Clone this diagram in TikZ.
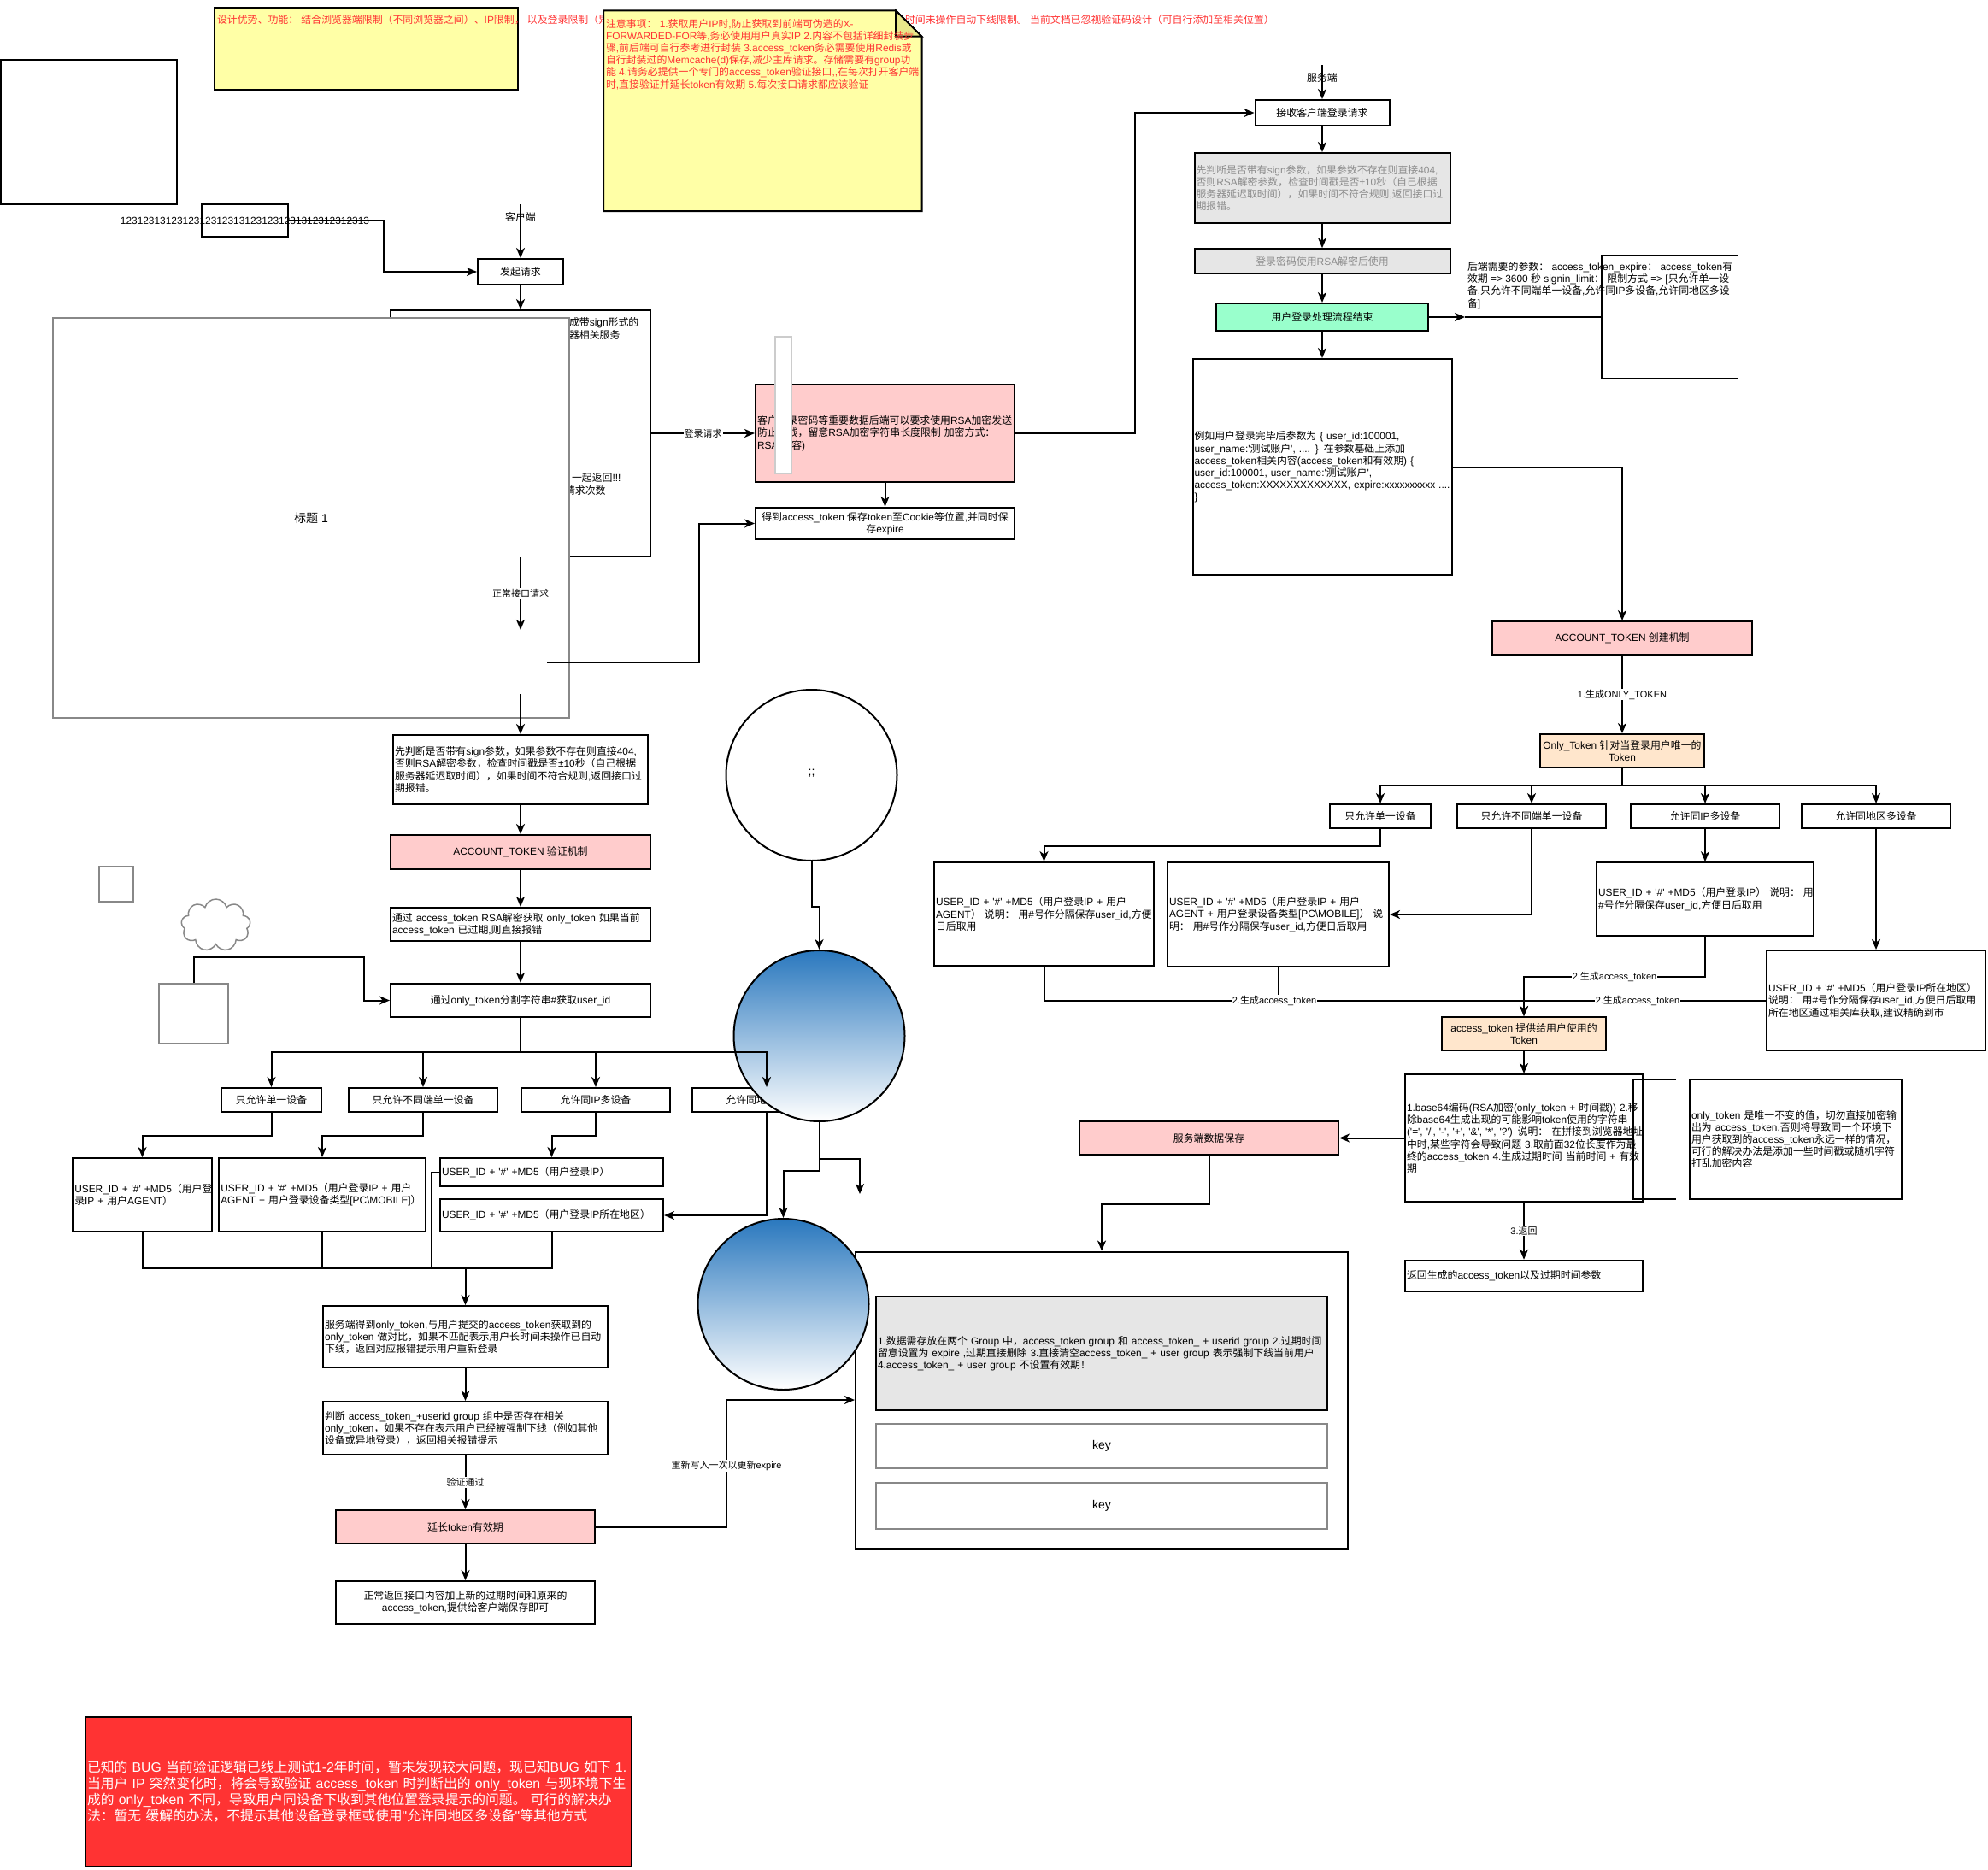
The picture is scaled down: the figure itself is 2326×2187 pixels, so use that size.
\documentclass[tikz,border=0pt]{standalone}
\usepackage{fontspec}
\usetikzlibrary{arrows.meta,shapes.symbols}
\setmainfont{Liberation Sans}[Ligatures=TeXOff]
\newfontfamily\cjkfont{Noto Sans CJK SC}
% CJK characters fall back on the Noto family
\XeTeXinterchartokenstate=1
\newXeTeXintercharclass\cjkclass
\newcount\cjkchar
\cjkchar="2E80
\loop \XeTeXcharclass\cjkchar=\cjkclass \ifnum\cjkchar<"9FFF \advance\cjkchar by 1 \repeat
\cjkchar="FF00
\loop \XeTeXcharclass\cjkchar=\cjkclass \ifnum\cjkchar<"FFEF \advance\cjkchar by 1 \repeat
\XeTeXinterchartoks 0 \cjkclass={\cjkfont}
\XeTeXinterchartoks 4095 \cjkclass={\cjkfont}
\XeTeXinterchartoks \cjkclass 0={\rmfamily}
\XeTeXinterchartoks \cjkclass 4095={\rmfamily}
\definecolor{pinkfill}{HTML}{FFCCCC}
\definecolor{peachfill}{HTML}{FFE6CC}
\definecolor{mintfill}{HTML}{99FFCC}
\definecolor{grayfill}{HTML}{E6E6E6}
\definecolor{notefill}{HTML}{FFFFA6}
\definecolor{foldfill}{HTML}{E8E88A}
\definecolor{redfill}{HTML}{FF3333}
\definecolor{edgegray}{HTML}{888888}
\definecolor{bluetop}{HTML}{2A78BE}
\tikzset{
  txt/.style={font=\fontsize{11.9}{14.2}\selectfont},
  box/.style={draw,line width=2pt,fill=white,inner sep=2pt,align=center,txt},
  lbox/.style={box,align=left,text width=#1-4pt},
  pinkbox/.style={box,fill=pinkfill},
  peachbox/.style={box,fill=peachfill},
  ghost/.style={box,draw=edgegray},
  plain/.style={inner sep=0pt,align=left,txt},
  lab/.style={fill=white,inner sep=1pt,font=\fontsize{11}{13}\selectfont},
  arr/.style={-{Stealth[length=12pt,width=10pt,inset=3.5pt]}},
  ball/.style={circle,draw,line width=2pt,minimum size=200pt,inner sep=0pt,top color=bluetop,bottom color=white},
}
\begin{document}
\lineskiplimit=-10pt
\begin{tikzpicture}[x=1pt,y=-1pt,line width=2pt]
\useasboundingbox (0,0) rectangle (2326,2187);
% notes at the top
\node[box,fill=notefill,minimum width=355,minimum height=96] (noteleft) at (428.5,57) {};
\node[plain,anchor=west,text=redfill] (noteleftA) at (253,23) {设计优势、功能： 结合浏览器端限制（不同浏览器之间）、IP限制，\ 以及登录限制（异};
\node[plain,anchor=west,text=redfill] (noteleftB) at (1058,23) {时间未操作自动下线限制。 当前文档已忽视验证码设计（可自行添加至相关位置）};
\draw[fill=notefill] (706,12.3) -- (1048,12.3) -- (1078.5,42.7) -- (1078.5,247) -- (706,247) -- cycle;
\draw[fill=foldfill] (1048,12.3) -- (1048,42.7) -- (1078.5,42.7) -- cycle;
\node[plain,anchor=north west,text=redfill] (noteright) at (708,21) {注意事项： 1.获取用户IP时,防止获取到前端可伪造的X-\\FORWARDED-FOR等,务必使用用户真实IP 2.内容不包括详细封装步\\骤,前后端可自行参考进行封装 3.access\_token务必需要使用Redis或\\自行封装过的Memcache(d)保存,减少主库请求。存储需要有group功\\能 4.请务必提供一个专门的access\_token验证接口,,在每次打开客户端\\时,直接验证并延长token有效期 5.每次接口请求都应该验证};
% left column
\node[box,minimum width=206,minimum height=169] (blank) at (104,154.5) {};
\node[box,minimum width=101,minimum height=38] (numbox) at (286.5,258) {};
\node[plain] (numtext) at (286.5,258) {12312313123123123123131231231231312312312313};
\coordinate (clientin) at (609,239);
\node[box,minimum width=100,minimum height=30] (req) at (609,318) {发起请求};
\draw[arr] (clientin) -- (req.north);
\node[plain] (clienttext) at (609,254) {客户端};
\draw[arr] (numbox.east) -- ++(111,0) |- (req.west);
\node[box,minimum width=304,minimum height=288] (hidden) at (609,507) {};
\draw[arr] (req.south) -- (hidden.north);
\node[plain,anchor=west] (hidA) at (665,377.5) {成带sign形式的};
\node[plain,anchor=west] (hidB) at (665,391.5) {器相关服务};
\node[plain,anchor=west] (hidC) at (668,559) {一起返回!!!};
\node[plain,anchor=west] (hidD) at (660,574) {请求次数};
\node[ghost,minimum width=604,minimum height=468,font=\fontsize{14}{16}\selectfont] (title) at (364,606) {标题 1};
\coordinate (normalend) at (609,737);
\draw[arr] (hidden.south) -- node[lab] (lbnormal) {正常接口请求} (normalend);
\node[lbox=298pt,minimum width=298,minimum height=81] (signbox) at (609,900.5) {先判断是否带有sign参数，如果参数不存在则直接404,\\否则RSA解密参数，检查时间戳是否±10秒（自己根据\\服务器延迟取时间），如果时间不符合规则,返回接口过\\期报错。};
\coordinate (signin) at (609,812);
\draw[arr] (signin) -- (signbox.north);
\node[pinkbox,minimum width=304,minimum height=40] (acctv) at (609,997) {ACCOUNT\_TOKEN 验证机制};
\draw[arr] (signbox.south) -- (acctv.north);
\node[lbox=304pt,minimum width=304,minimum height=39] (decode) at (609,1081.5) {通过 access\_token RSA解密获取 only\_token 如果当前\\access\_token 已过期,则直接报错};
\draw[arr] (acctv.south) -- (decode.north);
\node[box,minimum width=304,minimum height=39] (split) at (609,1170.5) {通过only\_token分割字符串\#获取user\_id};
\draw[arr] (decode.south) -- (split.north);
% shapes beside the column
\node[ghost,minimum width=40.5,minimum height=41] (graysq) at (135.75,1034.5) {};
\node[cloud,draw=edgegray,line width=1.5pt,cloud puffs=9,minimum width=81,minimum height=61] (cloudy) at (252.5,1082.5) {};
\node[ghost,minimum width=81,minimum height=70] (graybox) at (226.5,1186) {};
\draw[arr] (graybox.north) -- ++(0,-30) -| ([xshift=-30pt]split.west) -- (split.west);
% login modes on the left
\node[box,minimum width=117,minimum height=28] (lb1) at (317.5,1287) {只允许单一设备};
\node[box,minimum width=174,minimum height=28] (lb2) at (495,1287) {只允许不同端单一设备};
\node[box,minimum width=174,minimum height=28] (lb3) at (697,1287) {允许同IP多设备};
\node[box,minimum width=174,minimum height=28] (lb4) at (897,1287) {允许同地区多设备};
\node[lbox=162.5pt,minimum width=162.5,minimum height=86] (lu1) at (166.5,1398) {USER\_ID~+~'\#'~+MD5（用户登\\录IP + 用户AGENT）};
\node[lbox=241.5pt,minimum width=241.5,minimum height=86] (lu2) at (377,1398) {USER\_ID + '\#' +MD5（用户登录IP + 用户\\AGENT + 用户登录设备类型[PC\textbackslash MOBILE]）};
\node[lbox=261pt,minimum width=261,minimum height=33] (lu3) at (645.5,1371.5) {USER\_ID + '\#' +MD5（用户登录IP）};
\node[lbox=261pt,minimum width=261,minimum height=38] (lu4) at (645.5,1422) {USER\_ID + '\#' +MD5（用户登录IP所在地区）};
% circles
\node[circle,draw,line width=2pt,fill=white,minimum size=200pt,inner sep=0pt,font=\fontsize{14}{16}\selectfont] (topball) at (949.5,907) {\raisebox{6pt}{;;}};
\node[ball] (ballone) at (958.5,1212) {};
\coordinate (fanleft) at (609,1231);
\draw (split.south) -- (fanleft);
\draw[arr] (fanleft) -| (lb1.north);
\draw[arr] (fanleft) -| (lb2.north);
\draw[arr] (fanleft) -| (lb3.north);
\draw[arr] (fanleft) -| (lb4.north);
\draw[arr] (lb1.south) -- ++(0,27) -| (lu1.north);
\draw[arr] (lb2.south) -- ++(0,27) -| (lu2.north);
\draw[arr] (lb3.south) -- ++(0,27) -| (lu3.north);
\draw[arr] (lb4.south) |- (lu4.east);
\draw[arr] (topball.south) -- ++(0,53) -| (ballone.north);
% server side check
\node[lbox=333pt,minimum width=333,minimum height=72] (server) at (544.5,1564) {服务端得到only\_token,与用户提交的access\_token获取到的\\only\_token 做对比，如果不匹配表示用户长时间未操作已自动\\下线，返回对应报错提示用户重新登录};
\coordinate (merge) at (544.5,1484);
\draw (lu1.south) |- (merge);
\draw (lu2.south) |- (merge);
\draw (lu4.south) |- (merge);
\draw (lu3.west) -- ++(-9,0) |- (merge);
\draw[arr] (merge) -- (server.north);
\node[lbox=333pt,minimum width=333,minimum height=62] (judge) at (544.5,1671) {判断 access\_token\_+userid group 组中是否存在相关\\only\_token，如果不存在表示用户已经被强制下线（例如其他\\设备或异地登录），返回相关报错提示};
\draw[arr] (server.south) -- (judge.north);
\node[pinkbox,minimum width=303,minimum height=39] (extend) at (544.5,1786.5) {延长token有效期};
\draw[arr] (judge.south) -- node[lab] (lbpass) {验证通过} (extend.north);
\node[box,minimum width=303,minimum height=50] (final) at (544.5,1875) {正常返回接口内容加上新的过期时间和原来的\\access\_token,提供给客户端保存即可};
\draw[arr] (extend.south) -- (final.north);
\node[box,fill=redfill,text=white,align=left,text width=635pt,minimum height=175,font=\fontsize{15.8}{19}\selectfont] (bug) at (419.5,2096.5) {已知的 BUG 当前验证逻辑已线上测试1-2年时间，暂未发现较大问题，现已知BUG~如下~1.\\当用户 IP 突然变化时，将会导致验证 access\_token 时判断出的 only\_token 与现环境下生\\成的 only\_token 不同，导致用户同设备下收到其他位置登录提示的问题。 可行的解决办\\法：暂无 缓解的办法，不提示其他设备登录框或使用"允许同地区多设备"等其他方式};
% login request
\node[lbox=303pt,fill=pinkfill,minimum width=303,minimum height=114] (rsa) at (1035.5,507) {客户登录密码等重要数据后端可以要求使用RSA加密发送\\防止明线，留意RSA加密字符串长度限制 加密方式：\\RSA(内容)};
\node[draw=black!20,line width=1.5pt,fill=white,minimum width=19.5,minimum height=160,inner sep=0pt] (sliver) at (916.7,474) {};
\draw[arr] (hidden.east) -- node[lab] (lblogin) {登录请求} (rsa.west);
\node[box,minimum width=303,minimum height=37] (tokensave) at (1035.5,612.5) {得到access\_token 保存token至Cookie等位置,并同时保\\存expire};
\draw[arr] (rsa.south) -- (tokensave.north);
\coordinate (normalout) at (640,775);
\draw[arr] (normalout) -- ++(178,0) |- (tokensave.west);
% server column
\coordinate (serverin) at (1547,76);
\node[box,minimum width=157,minimum height=30] (recv) at (1547,132) {接收客户端登录请求};
\draw[arr] (serverin) -- (recv.north);
\node[plain] (servertext) at (1547,91) {服务端};
\draw[arr] (rsa.east) -- ++(140,0) |- (recv.west);
\node[lbox=299pt,fill=grayfill,text=black!45,minimum width=299,minimum height=82] (grayone) at (1547,220) {先判断是否带有sign参数，如果参数不存在则直接404,\\否则RSA解密参数，检查时间戳是否±10秒（自己根据\\服务器延迟取时间），如果时间不符合规则,返回接口过\\期报错。};
\draw[arr] (recv.south) -- (grayone.north);
\node[box,fill=grayfill,text=black!45,minimum width=299,minimum height=28.5] (graytwo) at (1547,305.5) {登录密码使用RSA解密后使用};
\draw[arr] (grayone.south) -- (graytwo.north);
\node[box,fill=mintfill,minimum width=248,minimum height=32] (finish) at (1547,371) {用户登录处理流程结束};
\draw[arr] (graytwo.south) -- (finish.north);
\node[lbox=303pt,minimum width=303,minimum height=253] (result) at (1547,546.5) {例如用户登录完毕后参数为 \{ user\_id:100001,\\user\_name:'测试账户', .... \} 在参数基础上添加\\access\_token相关内容(access\_token和有效期) \{\\user\_id:100001, user\_name:'测试账户',\\access\_token:XXXXXXXXXXXXX, expire:xxxxxxxxxx~....\\\}};
\draw[arr] (finish.south) -- (result.north);
\coordinate (paramin) at (1714,371);
\coordinate (bracein) at (1874,371);
\draw[arr] (finish.east) -- (paramin);
\draw (paramin) -- (bracein);
\draw (2034,299) -- (1874,299) -- (1874,443) -- (2034,443);
\node[plain,anchor=west] (param) at (1716,334) {后端需要的参数： access\_token\_expire： access\_token有\\效期 => 3600 秒 signin\_limit： 限制方式 => [只允许单一设\\备,只允许不同端单一设备,允许同IP多设备,允许同地区多设\\备]};
% token creation
\node[pinkbox,minimum width=304,minimum height=39] (acct) at (1898,746.5) {ACCOUNT\_TOKEN 创建机制};
\draw[arr] (result.east) -| (acct.north);
\node[peachbox,minimum width=192,minimum height=39] (onlytok) at (1898,878.5) {Only\_Token 针对当登录用户唯一的\\Token};
\draw[arr] (acct.south) -- node[lab] (lbonly) {1.生成ONLY\_TOKEN} (onlytok.north);
\node[box,minimum width=118,minimum height=28] (rb1) at (1615,955) {只允许单一设备};
\node[box,minimum width=174,minimum height=28] (rb2) at (1792,955) {只允许不同端单一设备};
\node[box,minimum width=174,minimum height=28] (rb3) at (1995,955) {允许同IP多设备};
\node[box,minimum width=174,minimum height=28] (rb4) at (2195,955) {允许同地区多设备};
\coordinate (fanright) at (1898,919);
\draw (onlytok.south) -- (fanright);
\draw[arr] (fanright) -| (rb1.north);
\draw[arr] (fanright) -| (rb2.north);
\draw[arr] (fanright) -| (rb3.north);
\draw[arr] (fanright) -| (rb4.north);
\node[lbox=257pt,minimum width=257,minimum height=121] (ru1) at (1221.5,1069.5) {USER\_ID + '\#' +MD5（用户登录IP + 用户\\AGENT） 说明： 用\#号作分隔保存user\_id,方便\\日后取用};
\node[lbox=259pt,minimum width=259,minimum height=122] (ru2) at (1495.5,1070) {USER\_ID + '\#' +MD5（用户登录IP + 用户\\AGENT + 用户登录设备类型[PC\textbackslash MOBILE]） 说\\明： 用\#号作分隔保存user\_id,方便日后取用};
\node[lbox=254pt,minimum width=254,minimum height=85.6] (ru3) at (1995,1052) {USER\_ID~+~'\#'~+MD5（用户登录IP）~说明：~用\\\#号作分隔保存user\_id,方便日后取用};
\node[lbox=256pt,minimum width=256,minimum height=117] (ru4) at (2195,1170.5) {USER\_ID + '\#' +MD5（用户登录IP所在地区）\\说明： 用\#号作分隔保存user\_id,方便日后取用\\所在地区通过相关库获取,建议精确到市};
\draw[arr] (rb1.south) -- ++(0,20) -| (ru1.north);
\draw[arr] (rb2.south) |- (ru2.east);
\draw[arr] (rb3.south) -- (ru3.north);
\draw[arr] (rb4.south) -- (ru4.north);
\node[peachbox,minimum width=191.5,minimum height=39] (acctok) at (1783,1209.5) {access\_token 提供给用户使用的\\Token};
\coordinate (acctokin) at (acctok.north |- ru4.west);
\draw (ru2.south) |- (acctokin);
\draw (ru1.south) |- node[lab,pos=.74] (lbruone) {2.生成access\_token} (acctokin);
\draw (ru4.west) -- node[lab,pos=.53] (lbrufour) {2.生成access\_token} (acctokin);
\draw[arr] (ru3.south) -- ++(0,47.5) -- node[lab] (lbruthree) {2.生成access\_token} ++(-212,0) -- (acctok.north);
\draw[arr] (acctokin) -- (acctok.north);
\node[lbox=278pt,minimum width=278,minimum height=149] (detail) at (1783,1331.5) {1.base64编码(RSA加密(only\_token + 时间戳)) 2.移\\除base64生成出现的可能影响token使用的字符串\\\mbox{('=', '/', '-', '+', '\&', '*', '?') 说明： 在拼接到浏览器地址}\\中时,某些字符会导致问题 3.取前面32位长度作为最\\终的access\_token 4.生成过期时间 当前时间 + 有效\\期};
\draw[arr] (acctok.south) -- (detail.north);
\coordinate (braceout) at (1860,1333);
\coordinate (bracetip) at (1911,1333);
\draw (braceout) -- (bracetip);
\draw (1961,1263) -- (1911,1263) -- (1911,1403) -- (1961,1403);
\node[lbox=248pt,minimum width=248,minimum height=140] (onlynote) at (2101,1333) {only\_token 是唯一不变的值，切勿直接加密输\\出为 access\_token,否则将导致同一个环境下\\用户获取到的access\_token永远一样的情况，\\可行的解决办法是添加一些时间戳或随机字符\\打乱加密内容};
\node[lbox=278pt,minimum width=278,minimum height=36.5] (giveback) at (1783,1493) {返回生成的access\_token以及过期时间参数};
\draw[arr] (detail.south) -- node[lab] (lbback) {3.返回} (giveback.north);
% storage
\node[pinkbox,minimum width=303,minimum height=39] (save) at (1414.5,1331.5) {服务端数据保存};
\draw[arr] (detail.west) -- (save.east);
\node[box,minimum width=576,minimum height=347] (store) at (1289,1638) {};
\draw[arr] (save.south) -- ++(0,57) -| (store.north);
\node[lbox=528pt,fill=grayfill,minimum width=528,minimum height=133] (groups) at (1289,1583.5) {1.数据需存放在两个 Group 中，access\_token group 和 access\_token\_ + userid group 2.过期时间\\留意设置为 expire ,过期直接删除 3.直接清空access\_token\_ + user group 表示强制下线当前用户\\4.access\_token\_ + user group 不设置有效期！};
\node[ghost,font=\fontsize{14}{16}\selectfont,minimum width=528,minimum height=52] (keyone) at (1289,1692) {key};
\node[ghost,font=\fontsize{14}{16}\selectfont,minimum width=528,minimum height=54] (keytwo) at (1289,1762) {key};
\draw[arr] (extend.east) -- ++(153,0) |- node[lab,pos=.24] (lbexpire) {重新写入一次以更新expire} (store.west);
\node[ball] (balltwo) at (916.5,1526) {};
\coordinate (ballend) at (1006,1397);
\draw[arr] (ballone.south) -- ++(0,43) -| (ballend);
\draw[arr] (ballone.south) -- ++(0,57) -| (balltwo.north);
\end{tikzpicture}
\end{document}
